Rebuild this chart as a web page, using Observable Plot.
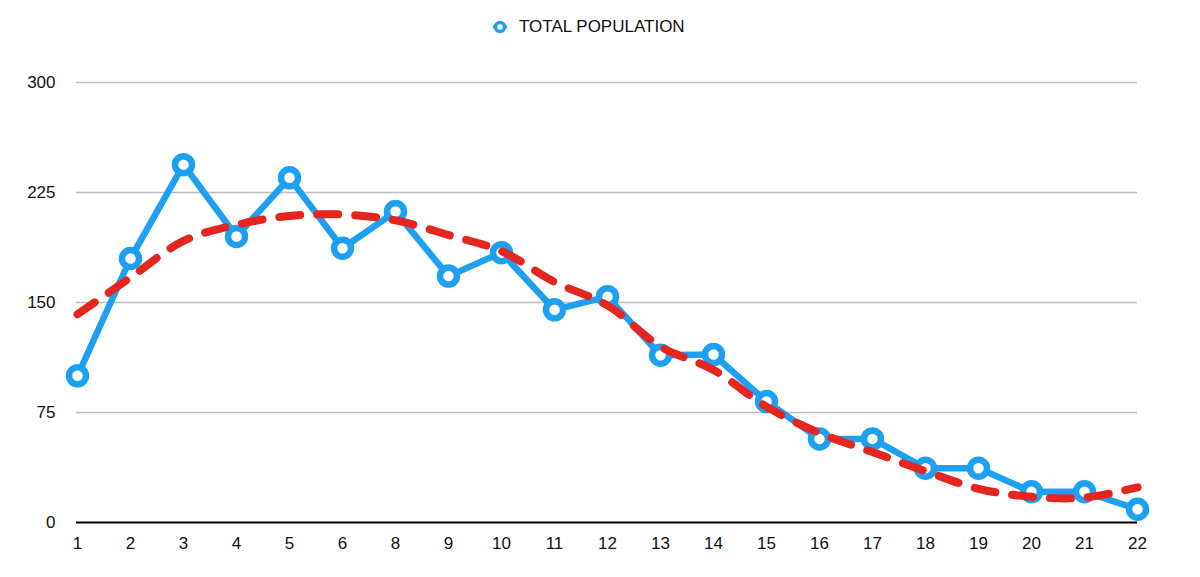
<!DOCTYPE html>
<html>
<head>
<meta charset="utf-8">
<script src="https://cdn.jsdelivr.net/npm/d3@7"></script>
<script src="https://cdn.jsdelivr.net/npm/@observablehq/plot@0.6"></script>
<style>
  html, body { margin: 0; padding: 0; background: #fff; }
  body { font-family: "Liberation Sans", Arial, Helvetica, sans-serif; }
  #legend { position: relative; height: 52px; width: 1200px; }
  #legend svg { position: absolute; left: 490px; top: 18px; }
  #legend span { position: absolute; left: 519px; top: 17px; font-size: 17px; color: #111; line-height: 20px; }
</style>
</head>
<body>
<div id="legend">
  <svg width="20" height="18" viewBox="-10 -9 20 18">
    <line x1="-7" x2="7" y1="0" y2="0" stroke="#1ea0f2" stroke-width="3"></line>
    <circle r="4.5" fill="#fff" stroke="#1ea0f2" stroke-width="3.5"></circle>
  </svg>
  <span>TOTAL POPULATION</span>
</div>
<div id="chart"></div>
<script>
const categories = ["1","2","3","4","5","6","8","9","10","11","12","13","14","15","16","17","18","19","20","21","22"];
const totalPopulation = [100, 180, 244, 195, 235, 187, 212, 168, 184, 145, 154, 114, 114.5, 82.5, 57, 57, 37, 37, 21, 21, 9];
const trendValues = [142, 167, 192, 203, 209, 210, 206, 196, 185, 164, 148, 120, 104, 79, 61, 48, 35, 23, 17.5, 17, 24];
const yTicks = [0, 75, 150, 225, 300];

const blue = "#1ea0f2";
const red = "#e5261f";

const total = categories.map((c, i) => ({x: c, y: totalPopulation[i]}));
const trend = categories.map((c, i) => ({x: c, y: trendValues[i]}));

const chart = Plot.plot({
  width: 1200,
  height: 525,
  marginLeft: 76,
  marginRight: 63,
  marginTop: 30,
  marginBottom: 55,
  style: { fontFamily: "'Liberation Sans', Arial, Helvetica, sans-serif", fontSize: "17px", color: "#111", background: "#fff" },
  x: { type: "point", domain: categories, padding: 0, label: null },
  y: { domain: [0, 300], label: null },
  marks: [
    Plot.ruleY(yTicks.filter(d => d > 0), { stroke: "#bdbdbd", strokeWidth: 1.5 }),
    Plot.axisY({ ticks: yTicks, tickSize: 0, tickPadding: 21, fontSize: 17, label: null }),
    Plot.axisX({ tickSize: 0, tickPadding: 14, fontSize: 17, label: null }),
    Plot.ruleY([0], { stroke: "#000", strokeWidth: 2 }),
    Plot.line(total, { x: "x", y: "y", stroke: blue, strokeWidth: 6.5, strokeLinejoin: "round" }),
    Plot.dot(total, { x: "x", y: "y", r: 8.5, fill: "#fff", stroke: blue, strokeWidth: 6.5 }),
    Plot.line(trend, { x: "x", y: "y", stroke: red, strokeWidth: 8, strokeDasharray: "21,17", curve: "catmull-rom" })
  ]
});
document.getElementById("chart").appendChild(chart);
</script>
</body>
</html>
